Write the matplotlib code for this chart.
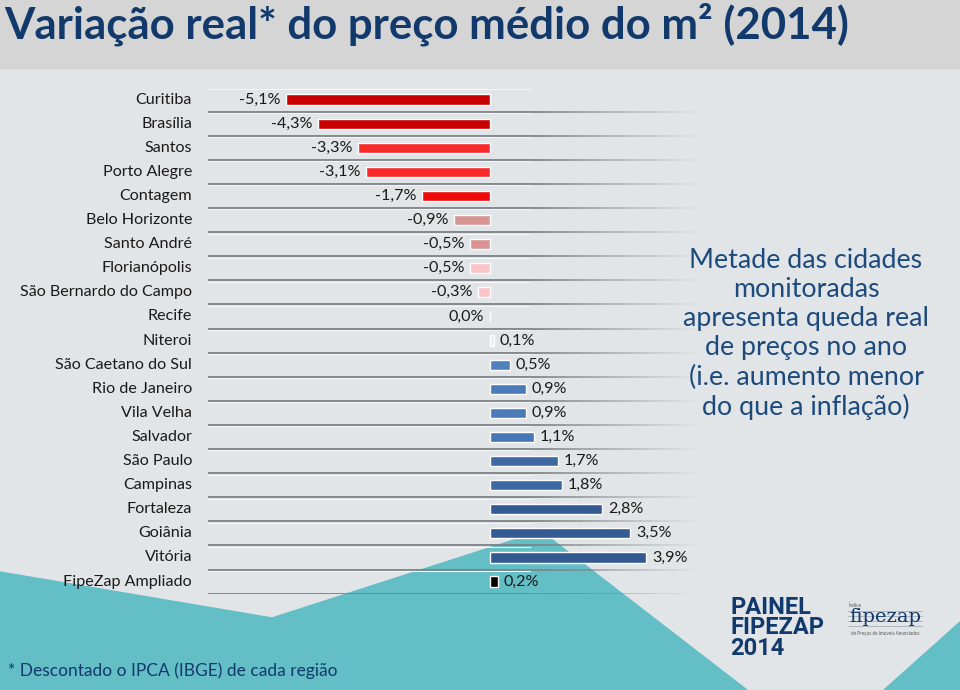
import matplotlib
matplotlib.use("Agg")
import matplotlib.pyplot as plt
from matplotlib.patches import Polygon, Rectangle
import numpy as np

# ---------------- data ----------------
cities = ["Curitiba", "Brasília", "Santos", "Porto Alegre", "Contagem",
          "Belo Horizonte", "Santo André", "Florianópolis",
          "São Bernardo do Campo", "Recife", "Niteroi", "São Caetano do Sul",
          "Rio de Janeiro", "Vila Velha", "Salvador", "São Paulo", "Campinas",
          "Fortaleza", "Goiânia", "Vitória", "FipeZap Ampliado"]
values = [-5.1, -4.3, -3.3, -3.1, -1.7, -0.9, -0.5, -0.5, -0.3, 0.0, 0.1, 0.5,
          0.9, 0.9, 1.1, 1.7, 1.8, 2.8, 3.5, 3.9, 0.2]
bar_colors = ["#c80000", "#c80000", "#f82a2a", "#f82a2a", "#ee0a0a",
              "#d99594", "#d99594", "#fbc4c8", "#fbc4c8", "#f4f4f4", "#e8eef7",
              "#4f81bd", "#4a7bb8", "#4a7bb8", "#4677b4", "#3e69a3", "#3e69a3",
              "#345b93", "#345b93", "#335a90", "#000000"]

title = "Variação real* do preço médio do m² (2014)"
note = ("Metade das cidades\nmonitoradas\napresenta queda real\n"
        "de preços no ano\n(i.e. aumento menor\ndo que a inflação)")
footnote = "* Descontado o IPCA (IBGE) de cada região"

W, H = 960, 690
fig = plt.figure(figsize=(W / 100, H / 100), dpi=100)

# ---------------- background (pixel coordinates) ----------------
bg = fig.add_axes([0, 0, 1, 1])
bg.set_xlim(0, W)
bg.set_ylim(H, 0)
bg.axis("off")
bg.add_patch(Rectangle((0, 0), W, H, color="#e2e5e8", zorder=0))
bg.add_patch(Rectangle((0, 0), W, 68, color="#d5d5d5", zorder=1))
teal = "#63bec6"
bg.add_patch(Polygon([(0, 572), (272, 618), (520, 538), (550, 538),
                      (747, 690), (0, 690)], closed=True, color=teal, zorder=1))
bg.add_patch(Polygon([(884, 690), (960, 622), (960, 690)], closed=True,
                     color=teal, zorder=1))

bg.text(4, 38, title, fontsize=31.5, fontweight="bold", color="#12396b",
        family="Lato", va="baseline", ha="left", zorder=5)
bg.text(806, 334, note, fontsize=19.3, color="#1c4a7c", family="Lato",
        ha="center", va="center", linespacing=1.21, zorder=5)
bg.text(8, 671, footnote, fontsize=12.5, color="#12396b", family="Lato",
        ha="left", va="center", zorder=5)

# logo
bg.text(730, 628, "PAINEL\nFIPEZAP\n2014", fontsize=17, fontweight="bold",
        color="#12396b", family="Roboto", ha="left", va="center",
        linespacing=0.86, zorder=5)
for yy in (611, 616, 621, 626):
    bg.plot([848, 922], [yy, yy], color="#9aa3ad", lw=0.5, zorder=4)
bg.text(849, 605, "Índice", fontsize=3.5, color="#555555", family="Lato",
        ha="left", va="center", zorder=5)
bg.text(885, 617, "fipezap", fontsize=14, color="#12396b",
        family="DejaVu Serif", ha="center", va="center", zorder=5)
bg.text(885, 633, "de Preços de Imóveis Anunciados", fontsize=3.3,
        color="#555555", family="Lato", ha="center", va="center", zorder=5)

# ---------------- bar chart ----------------
x0_px, x1_px = 200, 700
zero_px, px_per_unit = 490, 40.0
row_top, row_h = 87.5, 24.1
n = len(cities)
ax = fig.add_axes([x0_px / W, 1 - (row_top + n * row_h) / H,
                   (x1_px - x0_px) / W, n * row_h / H])
ax.set_xlim((x0_px - zero_px) / px_per_unit, (x1_px - zero_px) / px_per_unit)
ax.set_ylim(n - 0.5, -0.5)
ax.axis("off")
ax.patch.set_alpha(0)

ypos = np.arange(n)
ax.barh(ypos, values, height=0.42, color=bar_colors, edgecolor="white",
        linewidth=1.0, zorder=3)

# separators with fading tail
f_start, f_solid, f_end = 0.016, 0.66, 0.99
for b in np.arange(-0.5, n, 1.0):
    ax.plot([f_start, f_solid], [b, b], color="#7c8186", lw=1.3,
            transform=ax.get_yaxis_transform(), zorder=2, solid_capstyle="butt")
    ax.plot([f_start, f_solid], [b + 0.06, b + 0.06], color="#f4f5f6", lw=0.8,
            transform=ax.get_yaxis_transform(), zorder=2)
    steps = np.linspace(f_solid, f_end, 20)
    for k in range(len(steps) - 1):
        a = 1 - (k + 1) / (len(steps))
        ax.plot([steps[k], steps[k + 1]], [b, b], color="#7c8186", lw=1.3,
                alpha=a, transform=ax.get_yaxis_transform(), zorder=2,
                solid_capstyle="butt")

# city labels
for i, c in enumerate(cities):
    ax.annotate(c, xy=(0, i), xycoords=("axes fraction", "data"),
                xytext=(-8 / 1.389, 0), textcoords="offset points",
                ha="right", va="center", fontsize=11.6, color="#1a1a1a",
                family="Lato", annotation_clip=False)

# value labels
for i, v in enumerate(values):
    lab = f"{v:.1f}".replace(".", ",") + "%"
    if v <= 0:
        ax.annotate(lab, xy=(v, i), xytext=(-6 / 1.389, 0),
                    textcoords="offset points", ha="right", va="center",
                    fontsize=11.6, color="#1a1a1a", family="Lato")
    else:
        ax.annotate(lab, xy=(v, i), xytext=(6 / 1.389, 0),
                    textcoords="offset points", ha="left", va="center",
                    fontsize=11.6, color="#1a1a1a", family="Lato")

fig.savefig("out.png", dpi=100)
